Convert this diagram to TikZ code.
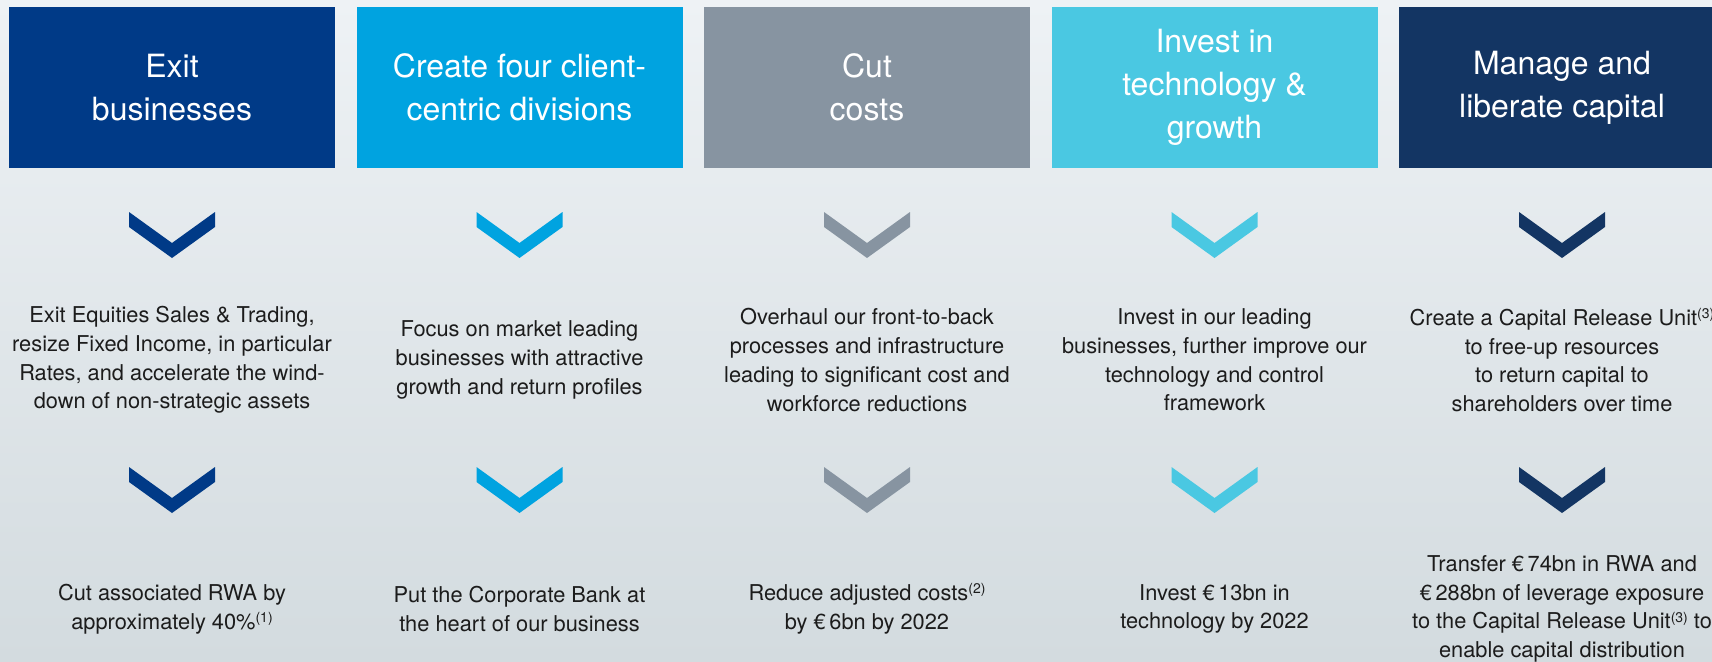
\documentclass[tikz,border=0pt]{standalone}
\usepackage{fontspec}
\setmainfont{TeX Gyre Heros}
\definecolor{cA}{HTML}{003A87}
\definecolor{cB}{HTML}{00A3E0}
\definecolor{cC}{HTML}{8794A1}
\definecolor{cD}{HTML}{4AC8E2}
\definecolor{cE}{HTML}{133563}
\definecolor{bgtop}{HTML}{EEF2F5}
\definecolor{bgbot}{HTML}{D3DBDF}
\definecolor{txt}{HTML}{1C1C1C}
\newcommand{\fnref}[1]{\raisebox{0.6ex}{\fontsize{14}{14}\selectfont(#1)}}
\begin{document}
\begin{tikzpicture}[x=1pt,y=-1pt,
  head/.style={fill=#1, text=white, minimum width=326pt, minimum height=161pt,
    align=center, font=\fontsize{32}{43}\selectfont, inner sep=0pt},
  body/.style={align=center, text=txt, font=\fontsize{21.8}{28.7}\selectfont, inner sep=0pt},
  pics/chev/.style={code={\fill[#1] (-43,0) -- (0,31) -- (43,0) -- (43,15) -- (0,46) -- (-43,15) -- cycle;}}
]
\useasboundingbox (0,0) rectangle (1712,661);
\clip (0,0) rectangle (1712,661);
\shade[top color=bgtop, bottom color=bgbot] (0,0) rectangle (1712,661);

% header boxes
\node[head=cA] (h1) at (172,87.5) {Exit\\businesses};
\node[head=cB] (h2) at (519.5,87.5) {Create four client-\\centric divisions};
\node[head=cC] (h3) at (867,87.5) {Cut\\costs};
\node[head=cD] (h4) at (1214.5,87.5) {Invest in\\technology \&\\growth};
\node[head=cE] (h5) at (1562,87.5) {Manage and\\liberate capital};

% first row of chevrons
\pic at (172,212) {chev=cA};
\pic at (519.5,212) {chev=cB};
\pic at (867,212) {chev=cC};
\pic at (1214.5,212) {chev=cD};
\pic at (1562,212) {chev=cE};

% middle texts
\node[body] (m1) at (172,360) {Exit Equities Sales \& Trading,\\resize Fixed Income, in particular\\Rates, and accelerate the wind-\\down of non-strategic assets};
\node[body] (m2) at (519.5,360) {Focus on market leading\\businesses with attractive\\growth and return profiles};
\node[body] (m3) at (867,360) {Overhaul our front-to-back\\processes and infrastructure\\leading to significant cost and\\workforce reductions};
\node[body] (m4) at (1214.5,360) {Invest in our leading\\businesses, further improve our\\technology and control\\framework};
\node[body] (m5) at (1562,360) {Create a Capital Release Unit\fnref{3}\\to free-up resources\\to return capital to\\shareholders over time};

% second row of chevrons
\pic at (172,467) {chev=cA};
\pic at (519.5,467) {chev=cB};
\pic at (867,467) {chev=cC};
\pic at (1214.5,467) {chev=cD};
\pic at (1562,467) {chev=cE};

% bottom texts
\node[body] (b1) at (172,609) {Cut associated RWA by\\approximately 40\%\fnref{1}};
\node[body] (b2) at (519.5,609) {Put the Corporate Bank at\\the heart of our business};
\node[body] (b3) at (867,609) {Reduce adjusted costs\fnref{2}\\by €\,6bn by 2022};
\node[body] (b4) at (1214.5,609) {Invest €\,13bn in\\technology by 2022};
\node[body] (b5) at (1562,609) {Transfer €\,74bn in RWA and\\€\,288bn of leverage exposure\\to the Capital Release Unit\fnref{3} to\\enable capital distribution};
\end{tikzpicture}
\end{document}
